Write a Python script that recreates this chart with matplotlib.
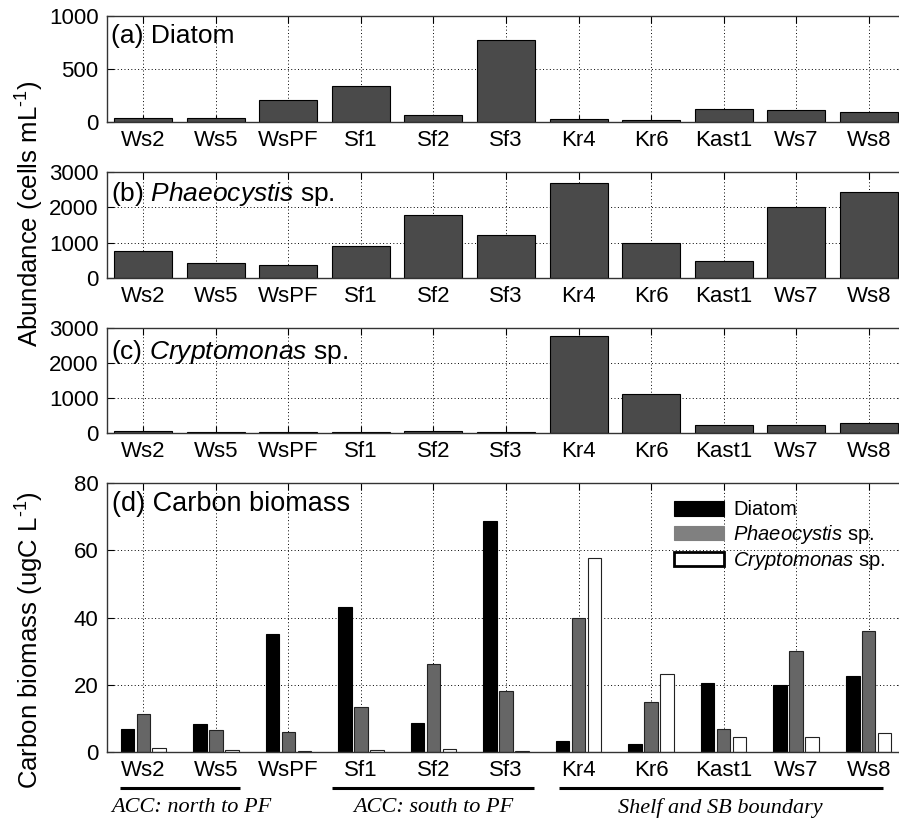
import numpy as np
import matplotlib
matplotlib.use("Agg")
import matplotlib.pyplot as plt
from matplotlib.patches import Patch
import matplotlib.transforms as mtransforms

# ---------------- data ----------------
stations = ["Ws2", "Ws5", "WsPF", "Sf1", "Sf2", "Sf3", "Kr4", "Kr6", "Kast1", "Ws7", "Ws8"]

diatom_abund = [40, 40, 203, 334, 69, 775, 31, 19, 122, 109, 97]
phaeo_abund = [760, 437, 380, 902, 1776, 1206, 2678, 988, 475, 2023, 2431]
crypto_abund = [57, 29, 29, 29, 57, 29, 2781, 1114, 219, 219, 286]

diatom_carbon = [6.9, 8.2, 35.2, 43.2, 8.7, 68.7, 3.3, 2.3, 20.4, 19.9, 22.7]
phaeo_carbon = [11.3, 6.5, 5.8, 13.3, 26.3, 18.2, 40.0, 14.9, 6.8, 29.9, 36.0]
crypto_carbon = [1.3, 0.6, 0.2, 0.6, 0.9, 0.2, 57.6, 23.3, 4.5, 4.5, 5.7]

group_labels = ["ACC: north to PF", "ACC: south to PF", "Shelf and SB boundary"]
group_first = ["Ws2", "Sf1", "Kr4"]
group_last = ["Ws5", "Sf3", "Ws8"]

# ---------------- style ----------------
plt.rcParams["font.family"] = ["Liberation Sans", "DejaVu Sans"]
plt.rcParams["mathtext.fontset"] = "custom"
plt.rcParams["mathtext.rm"] = "Liberation Sans"
plt.rcParams["mathtext.it"] = "Liberation Sans:italic"
plt.rcParams["mathtext.default"] = "regular"

W, H = 899, 819
fig = plt.figure(figsize=(W / 100, H / 100), dpi=100)

x = np.arange(1, len(stations) + 1)

left = 107 / W
width = (905 - 107) / W

def fy(top_px, bot_px):
    return [left, 1 - bot_px / H, width, (bot_px - top_px) / H]

TICK_FS = 16
bar_dark = "#4a4a4a"

def style_axes(ax, yticks, ylim):
    ax.set_xlim(0.5, len(stations) + 0.5)
    ax.set_ylim(*ylim)
    ax.set_yticks(yticks)
    ax.set_xticks(x)
    ax.set_xticklabels(stations)
    ax.tick_params(direction="in", length=5, width=0.8, top=True, right=True,
                   labelsize=TICK_FS, pad=6, colors="black")
    ax.grid(True, linestyle=(0, (1, 2.5)), color="black", linewidth=0.7)
    ax.set_axisbelow(True)
    for s in ax.spines.values():
        s.set_color("#333333")
        s.set_linewidth(1.0)

panels = [
    (diatom_abund, (15.7, 122), [0, 500, 1000], (0, 1000), "(a) Diatom", 0.745),
    (phaeo_abund, (172, 278), [0, 1000, 2000, 3000], (0, 3000), "(b) $\\mathit{Phaeocystis}$ sp.", 0.73),
    (crypto_abund, (328, 433), [0, 1000, 2000, 3000], (0, 3000), "(c) $\\mathit{Cryptomonas}$ sp.", 0.70),
]

for vals, (t, b), yt, yl, title, ty in panels:
    ax = fig.add_axes(fy(t, b))
    ax.bar(x, vals, width=0.8, color=bar_dark, edgecolor="black", linewidth=0.8, zorder=2)
    style_axes(ax, yt, yl)
    ax.text(0.005, ty, title, transform=ax.transAxes, fontsize=19, va="baseline", ha="left")

fig.text(30 / W, 1 - 214 / H, "Abundance (cells mL$^{\\text{-1}}$)", rotation=90,
         fontsize=18.5, ha="center", va="center")

# ---------------- panel d ----------------
axd = fig.add_axes(fy(483, 752))
bw = 0.186
off = 0.22
axd.bar(x - off, diatom_carbon, width=bw, color="black", edgecolor="black", linewidth=0.8, zorder=2)
axd.bar(x, phaeo_carbon, width=bw, color="#666666", edgecolor="#222222", linewidth=0.8, zorder=2)
axd.bar(x + off, crypto_carbon, width=bw, color="white", edgecolor="#222222", linewidth=0.8, zorder=2)
style_axes(axd, [0, 20, 40, 60, 80], (0, 80))
axd.text(0.006, 0.896, "(d) Carbon biomass", transform=axd.transAxes, fontsize=19.5,
         va="baseline", ha="left")

handles = [
    Patch(facecolor="black", edgecolor="black", linewidth=0.8, label="Diatom"),
    Patch(facecolor="#808080", edgecolor="#808080", linewidth=0.8, label="$\\mathit{Phaeocystis}$ sp."),
    Patch(facecolor="white", edgecolor="black", linewidth=2.0, label="$\\mathit{Cryptomonas}$ sp."),
]
axd.legend(handles=handles, loc="upper left", bbox_to_anchor=(0.7105, 0.935),
           frameon=False, fontsize=14.5, handlelength=2.5, handleheight=0.72,
           handletextpad=0.45, labelspacing=0.18, borderpad=0, borderaxespad=0)

fig.text(30 / W, 1 - 640 / H, "Carbon biomass (ugC L$^{\\text{-1}}$)", rotation=90,
         fontsize=18.5, ha="center", va="center")

# group annotations
idx = {s: i + 1 for i, s in enumerate(stations)}
line_pad_l = [-0.32, -0.40, -0.27]
line_pad_r = [0.34, 0.39, 0.19]
text_shift = [0.15, 0.0, 0.0]
trans = mtransforms.blended_transform_factory(axd.transData, fig.transFigure)
for lab, a, b, pl, pr, ts in zip(group_labels, group_first, group_last, line_pad_l, line_pad_r, text_shift):
    x0 = idx[a] + pl
    x1 = idx[b] + pr
    axd.plot([x0, x1], [1 - 788 / H] * 2, transform=trans, color="black", lw=2.2,
             clip_on=False, solid_capstyle="butt")
    axd.text((x0 + x1) / 2 + ts, 1 - 808 / H, lab, transform=trans, ha="center", va="center",
             fontsize=16, fontstyle="italic", family=["Liberation Serif", "DejaVu Serif"])

fig.savefig("out.png", dpi=100)
